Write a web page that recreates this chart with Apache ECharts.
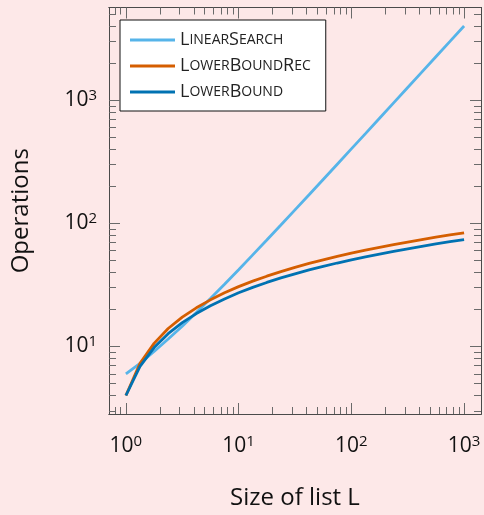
<!DOCTYPE html>
<html>
<head>
<meta charset="utf-8">
<script src="https://cdn.jsdelivr.net/npm/echarts@6/dist/echarts.min.js"></script>
<style>
  html, body { margin: 0; padding: 0; background: #fde8e8; }
  #chart { width: 484px; height: 515px; }
</style>
</head>
<body>
<div id="chart"></div>
<script>
// ---- data ----
const seriesNames = ['LinearSearch', 'LowerBoundRec', 'LowerBound'];
const listSizes = [1, 1.334, 1.778, 2.371, 3.162, 4.217, 5.623, 7.499, 10, 13.34, 17.78, 23.71,
  31.62, 42.17, 56.23, 74.99, 100, 133.4, 177.8, 237.1, 316.2, 421.7, 562.3, 749.9, 1000];
const linearSearch = [6, 7.3, 9.1, 11.5, 14.6, 18.9, 24.5, 32, 42, 55.4, 73.1, 96.8,
  128.5, 170.7, 227, 302, 402, 535, 713, 950, 1267, 1689, 2251, 3001, 4002];
const lowerBoundRec = [4, 7.3, 10.6, 14.0, 17.3, 20.6, 23.9, 27.3, 30.6, 33.9, 37.2, 40.5,
  43.9, 47.2, 50.5, 53.8, 57.2, 60.5, 63.8, 67.1, 70.4, 73.8, 77.1, 80.4, 83.7];
const lowerBound = [4, 6.9, 9.8, 12.7, 15.6, 18.5, 21.4, 24.3, 27.3, 30.2, 33.1, 36.0,
  38.9, 41.8, 44.7, 47.6, 50.5, 53.4, 56.3, 59.2, 62.1, 65.0, 68.0, 70.9, 73.8];
const xMajorTicks = [1, 10, 100, 1000];
const xMinorTicks = [0.8, 0.9, 2, 3, 4, 5, 6, 7, 8, 9, 20, 30, 40, 50, 60, 70, 80, 90,
  200, 300, 400, 500, 600, 700, 800, 900];
const yMajorTicks = [10, 100, 1000];
const yMinorTicks = [3, 4, 5, 6, 7, 8, 9, 20, 30, 40, 50, 60, 70, 80, 90,
  200, 300, 400, 500, 600, 700, 800, 900, 2000, 3000, 4000, 5000];
const xRange = [0.708, 1413];
const yRange = [2.83, 5650];

// ---- styling ----
const FONT = '"Open Sans", "DejaVu Sans", sans-serif';
const AXIS_COLOR = '#4a4a4a';
const TICK_COLOR = '#6a6a6a';
const colors = ['#56B4E9', '#D55E00', '#0072B2'];

const powRich = {
  b: { fontSize: 21, lineHeight: 22, fontFamily: FONT, color: '#111' },
  s: { fontSize: 15, lineHeight: 15, fontFamily: FONT, color: '#111', padding: [0, 0, 9, 0] }
};
function powLabel(v) {
  const n = Math.round(Math.log10(v));
  return '{b|10}{s|' + n + '}';
}
function smallCaps(name) {
  return name.replace(/([A-Z])([a-z]*)/g, function (m, u, l) {
    return '{b|' + u + '}' + (l ? '{s|' + l.toUpperCase() + '}' : '');
  });
}

function makeAxis(kind, position, major, withLabels) {
  const range = kind === 'x' ? xRange : yRange;
  const ticks = major ? (kind === 'x' ? xMajorTicks : yMajorTicks)
                      : (kind === 'x' ? xMinorTicks : yMinorTicks);
  const ax = {
    type: 'log',
    logBase: 10,
    position: position,
    min: range[0],
    max: range[1],
    splitLine: { show: false },
    axisLine: { show: true, onZero: false, lineStyle: { color: AXIS_COLOR, width: 1 } },
    axisTick: {
      show: true, inside: true, length: major ? 11 : 7,
      customValues: ticks,
      lineStyle: { color: TICK_COLOR, width: 1 }
    },
    axisLabel: { show: false },
    minorTick: { show: false },
    z: 5
  };
  if (withLabels) {
    ax.axisLabel = {
      show: true,
      customValues: ticks,
      formatter: powLabel,
      rich: powRich,
      margin: kind === 'x' ? 21 : 12
    };
  }
  return ax;
}

const xAxes = [
  makeAxis('x', 'bottom', true, true),
  makeAxis('x', 'bottom', false, false),
  makeAxis('x', 'top', true, false),
  makeAxis('x', 'top', false, false)
];
xAxes[0].name = 'Size of list L';
xAxes[0].nameLocation = 'middle';
xAxes[0].nameGap = 72;
xAxes[0].nameTextStyle = { fontSize: 24, fontFamily: FONT, color: '#111' };

const yAxes = [
  makeAxis('y', 'left', true, true),
  makeAxis('y', 'left', false, false),
  makeAxis('y', 'right', true, false),
  makeAxis('y', 'right', false, false)
];
yAxes[0].name = 'Operations';
yAxes[0].nameLocation = 'middle';
yAxes[0].nameGap = 76;
yAxes[0].nameTextStyle = { fontSize: 24, fontFamily: FONT, color: '#111' };

const seriesValues = [linearSearch, lowerBoundRec, lowerBound];
const series = seriesNames.map(function (name, i) {
  return {
    name: name,
    type: 'line',
    xAxisIndex: 0,
    yAxisIndex: 0,
    symbol: 'none',
    smooth: false,
    lineStyle: { color: colors[i], width: 2.8 },
    itemStyle: { color: colors[i] },
    data: listSizes.map(function (L, k) { return [L, seriesValues[i][k]]; }),
    z: 3 + i
  };
});

const chart = echarts.init(document.getElementById('chart'), null, { renderer: 'canvas' });
chart.setOption({
  backgroundColor: '#fde8e8',
  animation: false,
  color: colors,
  grid: { left: 109, right: 3, top: 7.5, bottom: 95, containLabel: false },
  legend: {
    data: seriesNames.map(function (n) { return { name: n, icon: 'rect' }; }),
    orient: 'vertical',
    left: 120,
    top: 20,
    itemWidth: 45,
    itemHeight: 3,
    itemGap: 8,
    padding: [11, 15, 10, 10],
    backgroundColor: '#ffffff',
    borderColor: '#111',
    borderWidth: 1,
    formatter: smallCaps,
    textStyle: {
      fontFamily: FONT,
      color: '#222',
      rich: {
        b: { fontSize: 18, lineHeight: 16, fontFamily: FONT, color: '#222' },
        s: { fontSize: 14, lineHeight: 16, fontFamily: FONT, color: '#222' }
      }
    }
  },
  xAxis: xAxes,
  yAxis: yAxes,
  series: series
});
</script>
</body>
</html>
